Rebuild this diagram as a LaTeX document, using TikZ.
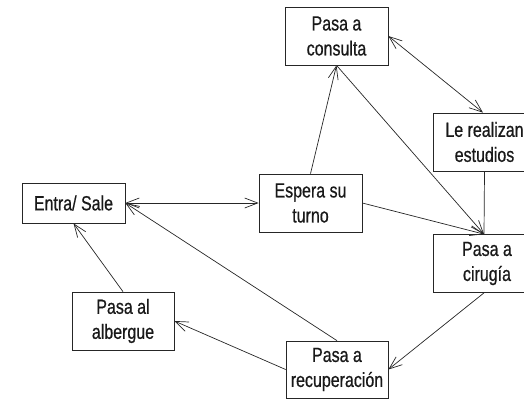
\documentclass[tikz,border=0pt]{standalone}
\usepackage{fontspec}
\setmainfont[FakeStretch=0.78,FakeBold=0.6]{Liberation Sans}
\usepackage{tikz}
\usetikzlibrary{arrows.meta, positioning, calc}
\tikzstyle{etapa} = [rectangle, minimum width=103pt, minimum height=58pt, inner sep=0pt, align=center, draw=black!85, line width=0.7pt, text=black!90, font=\fontsize{20.5}{25}\selectfont]
\tikzstyle{flecha} = [line width=0.7pt, draw=black!85, -{Straight Barb[length=13pt,width=10pt]}]

\begin{document}
\begin{tikzpicture}[x=1pt,y=1pt]
    \clip (0,0) rectangle (524,-399);
    \node (consulta) [etapa] at (336.5,-36) {Pasa a\\consulta};
    \node (estudios) [etapa] at (484.5,-142) {Le realizan\\estudios};
    \node (entra) [etapa, minimum height=40pt] at (73.5,-203) {Entra/ Sale};
    \node (espera) [etapa] at (310.5,-203) {Espera su\\turno};
    \node (cirugia) [etapa, minimum width=108pt] at (487,-263.5) {Pasa a\\cirugía};
    \node (recuperacion) [etapa, minimum width=102pt, minimum height=57pt] at (337,-369.5) {Pasa a\\recuperación};
    \node (albergue) [etapa, minimum width=102pt] at (123,-321) {Pasa al\\albergue};

    \draw [flecha, {Straight Barb[length=13pt,width=10pt]}-{Straight Barb[length=13pt,width=10pt]}] (entra.east) -- (espera.west);
    \draw [flecha] (espera.north) -- (consulta.south);
    \draw [flecha] (consulta.south) -- ([xshift=-3pt]cirugia.north);
    \draw [flecha, {Straight Barb[length=13pt,width=10pt]}-{Straight Barb[length=13pt,width=10pt]}] (consulta.east) -- ([xshift=-1.5pt]estudios.north);
    \draw [line width=0.7pt, draw=black!85] (estudios.south) -- ([xshift=-3pt]cirugia.north);
    \draw [flecha] (espera.east) -- ([xshift=-3pt]cirugia.north);
    \draw [flecha] ([xshift=-3pt]cirugia.south) -- (recuperacion.east);
    \draw [flecha] (recuperacion.north) -- (entra.east);
    \draw [flecha] (recuperacion.west) -- (albergue.east);
    \draw [flecha] (albergue.north) -- (entra.south);
  \end{tikzpicture}
\end{document}
